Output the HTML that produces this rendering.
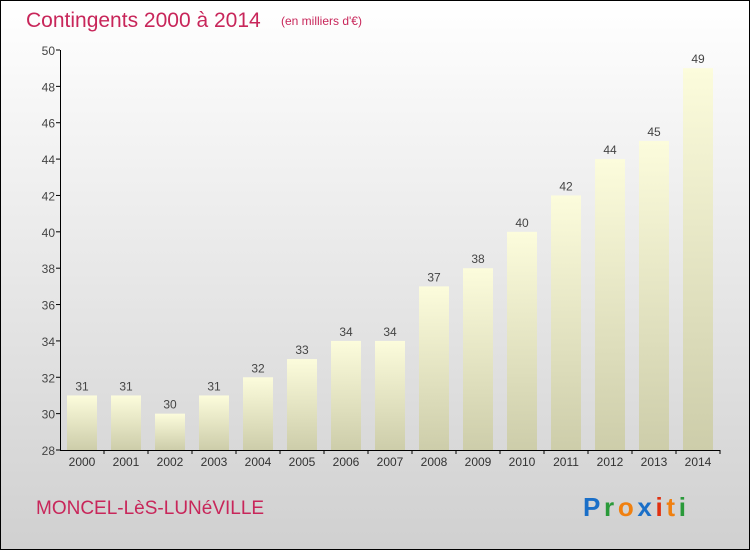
<!DOCTYPE html>
<html><head><meta charset="utf-8"><style>
body{margin:0;width:750px;height:550px;overflow:hidden}
svg{display:block;font-family:"Liberation Sans",sans-serif}
</style></head><body>
<svg width="750" height="550">
<defs>
<linearGradient id="bg" x1="0" y1="0" x2="0" y2="1"><stop offset="0" stop-color="#ffffff"/><stop offset="1" stop-color="#d0d0d0"/></linearGradient>
<linearGradient id="bar" x1="0" y1="0" x2="0" y2="1"><stop offset="0" stop-color="#fcfcdc"/><stop offset="1" stop-color="#cdcdaa"/></linearGradient>
</defs>
<rect x="0.5" y="0.5" width="749" height="549" fill="url(#bg)" stroke="#000"/>
<text x="26" y="27" font-size="21" fill="#c8265a">Contingents 2000 à 2014</text>
<text x="281" y="25" font-size="12" fill="#c8265a">(en milliers d'€)</text>
<g id="grid"></g><g id="bars"></g><g id="axes"></g>
<text x="36" y="514" font-size="19" fill="#c8265a">MONCEL-LèS-LUNéVILLE</text>
<text x="583" y="516" font-size="26" font-weight="bold" textLength="103" lengthAdjust="spacing"><tspan fill="#1a6fc8">P</tspan><tspan fill="#2a9a3a">r</tspan><tspan fill="#f08010">o</tspan><tspan fill="#1a6fc8">x</tspan><tspan fill="#e03010">i</tspan><tspan fill="#f08010">t</tspan><tspan fill="#2a9a3a">i</tspan></text>
</svg>
<script>
const categories=["2000","2001","2002","2003","2004","2005","2006","2007","2008","2009","2010","2011","2012","2013","2014"];
const values=[31,31,30,31,32,33,34,34,37,38,40,42,44,45,49];
const yTicks=[28,30,32,34,36,38,40,42,44,46,48,50];
const NS="http://www.w3.org/2000/svg";
const y0=450,y1=50,vmin=28,vmax=50;
const ys=v=>y0-(v-vmin)/(vmax-vmin)*(y0-y1);
const xs=i=>82+i*44;
function mk(t,a,p){const e=document.createElementNS(NS,t);for(const k in a)e.setAttribute(k,a[k]);p.appendChild(e);return e;}
const bars=document.getElementById('bars'),axes=document.getElementById('axes');
values.forEach((v,i)=>{
 const r=mk('rect',{x:xs(i)-15,y:ys(v),width:30,height:y0-ys(v),fill:'url(#bar)'},bars);
 
 
 const t=mk('text',{x:xs(i),y:ys(v)-5,'text-anchor':'middle','font-size':12,fill:'#444'},bars);
 t.textContent=v;
 
 
 const c=mk('text',{x:xs(i),y:466,'text-anchor':'middle','font-size':12,fill:'#333'},axes);
 c.textContent=categories[i];
 
 
 mk('line',{x1:xs(i)+22,x2:xs(i)+22,y1:y0,y2:y0+4,stroke:'#000'},axes);
});
yTicks.forEach(v=>{
 mk('line',{x1:56,x2:60,y1:ys(v),y2:ys(v),stroke:'#000'},axes);
 const t=mk('text',{x:55,y:ys(v)+5,'text-anchor':'end','font-size':12,fill:'#444'},axes);
 t.textContent=v;
 
 
});
const ya=mk('line',{x1:60.5,x2:60.5,y1:y1,y2:y0,stroke:'#000'},axes);


const xa=mk('line',{x1:60,x2:720,y1:y0+0.5,y2:y0+0.5,stroke:'#000'},axes);


</script>
</body></html>
